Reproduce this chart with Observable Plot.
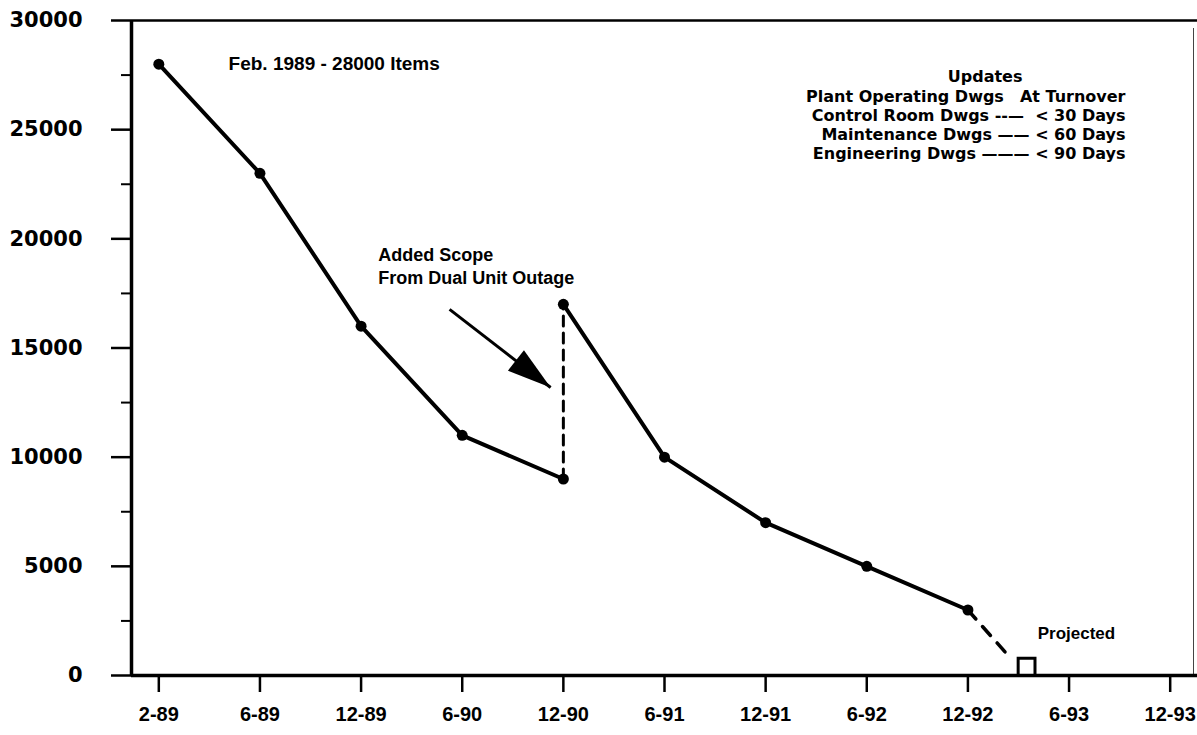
<!DOCTYPE html>
<html>
<head>
<meta charset="utf-8">
<script src="https://cdn.jsdelivr.net/npm/d3@7"></script>
<script src="https://cdn.jsdelivr.net/npm/@observablehq/plot@0.6"></script>
<style>
  html, body { margin: 0; padding: 0; background: #fff; }
  svg { display: block; }
</style>
</head>
<body>
<div id="chart"></div>
<script>
// ---- data ----
const xLabels = ["2-89", "6-89", "12-89", "6-90", "12-90", "6-91", "12-91", "6-92", "12-92", "6-93", "12-93"];
const beforeIdx = [0, 1, 2, 3, 4];
const beforeVals = [28000, 23000, 16000, 11000, 9000];
const afterIdx = [4, 5, 6, 7, 8];
const afterVals = [17000, 10000, 7000, 5000, 3000];
const jumpIdx = [4, 4];
const jumpVals = [9000, 17000];
const projIdx = [8, 8.42];
const projVals = [3000, 800];
const projBoxIdx = [8.58];
const projBoxVals = [400];
const yMajor = [0, 5000, 10000, 15000, 20000, 25000, 30000];
const yMinor = [2500, 7500, 12500, 17500, 22500, 27500];
const xDomain = [-0.27, 10.27];
const yDomain = [0, 30000];

// annotations
const annFeb = [{x: 0.69, y: 28000, text: "Feb. 1989 - 28000 Items"}];
const annScope = [{x: 2.17, y: 19700, text: "Added Scope\nFrom Dual Unit Outage"}];
const arrowLine = [{x1: 2.875, y1: 16770, x2: 3.874, y2: 13190}];
const annProjected = [{x: 8.69, y: 1925, text: "Projected"}];
const legendTitle = [{x: 8.17, y: 27400, text: "Updates"}];
const legendLines = ["Plant Operating Dwgs\u2002\u2002At Turnover", "Control Room Dwgs --\u2014  < 30 Days", "Maintenance Dwgs \u2014\u2014 < 60 Days", "Engineering Dwgs \u2014\u2014\u2014 < 90 Days"];
const legendY = [26480, 25610, 24740, 23870];
const legendX = 9.558;

const toPts = (xs, ys) => xs.map((x, i) => ({x, y: ys[i]}));
const before = toPts(beforeIdx, beforeVals);
const after = toPts(afterIdx, afterVals);
const jump = toPts(jumpIdx, jumpVals);
const proj = toPts(projIdx, projVals);
const projBox = toPts(projBoxIdx, projBoxVals);
const legend = legendLines.map((t, i) => ({x: legendX, y: legendY[i], text: t}));

const headSymbol = {
  draw(context) {
    context.moveTo(0, 0);
    context.lineTo(13, 44);
    context.lineTo(-13, 44);
    context.closePath();
  }
};

const FONT = "Liberation Sans, Arial, sans-serif";

const chart = Plot.plot({
  width: 1197,
  height: 735,
  marginLeft: 131,
  marginRight: 0,
  marginTop: 20,
  marginBottom: 60,
  style: {fontFamily: FONT, color: "#000", background: "#fff"},
  x: {type: "linear", domain: xDomain, axis: null},
  y: {domain: yDomain, axis: null},
  marks: [
    // frame lines
    Plot.ruleY([yDomain[1]], {strokeWidth: 2.5}),
    Plot.ruleX([xDomain[1]], {dx: -4, strokeWidth: 1, insetTop: 8, stroke: "#444"}),
    Plot.ruleX([xDomain[0]], {strokeWidth: 3.5}),
    Plot.ruleY([0], {strokeWidth: 3.5}),
    // y axis
    Plot.axisY({ticks: yMajor, tickSize: 20, tickPadding: 29, tickFormat: d3.format("d"),
      fontSize: 21, fontWeight: "bold", fontFamily: "DejaVu Sans", strokeWidth: 2.5}),
    Plot.axisY({ticks: yMinor, tickSize: 10, tickFormat: () => "", strokeWidth: 2}),
    // x axis
    Plot.axisX({ticks: d3.range(xLabels.length), tickSize: 17, tickPadding: 14,
      tickFormat: i => xLabels[i], fontSize: 20, fontWeight: "bold", strokeWidth: 2.5}),
    // series
    Plot.line(before, {x: "x", y: "y", strokeWidth: 4}),
    Plot.line(after, {x: "x", y: "y", strokeWidth: 4}),
    Plot.line(jump, {x: "x", y: "y", strokeWidth: 3, strokeDasharray: "10,7"}),
    Plot.line(proj, {x: "x", y: "y", strokeWidth: 3.5, strokeDasharray: "12,10"}),
    Plot.dot(before.concat(after), {x: "x", y: "y", r: 5.5, fill: "#000"}),
    Plot.dot(projBox, {x: "x", y: "y", symbol: "square", r: 9.5, fill: "#fff", stroke: "#000", strokeWidth: 3}),
    // arrow
    Plot.link(arrowLine, {x1: "x1", y1: "y1", x2: "x2", y2: "y2", strokeWidth: 3}),
    Plot.dot(arrowLine, {x: "x2", y: "y2", symbol: headSymbol, rotate: 128, fill: "#000", r: 5}),
    // annotations
    Plot.text(annFeb, {x: "x", y: "y", text: "text", textAnchor: "start", fontSize: 19, fontWeight: "bold"}),
    Plot.text(annScope, {x: "x", y: "y", text: "text", textAnchor: "start", lineAnchor: "top", lineHeight: 1.25, fontSize: 18, fontWeight: "bold"}),
    Plot.text(annProjected, {x: "x", y: "y", text: "text", textAnchor: "start", fontSize: 17, fontWeight: "bold"}),
    Plot.text(legendTitle, {x: "x", y: "y", text: "text", textAnchor: "middle", fontSize: 16, fontWeight: "bold", fontFamily: "DejaVu Sans"}),
    Plot.text(legend, {x: "x", y: "y", text: "text", textAnchor: "end", fontSize: 16, fontWeight: "bold", fontFamily: "DejaVu Sans"})
  ]
});

document.getElementById("chart").appendChild(chart);
</script>
</body>
</html>
